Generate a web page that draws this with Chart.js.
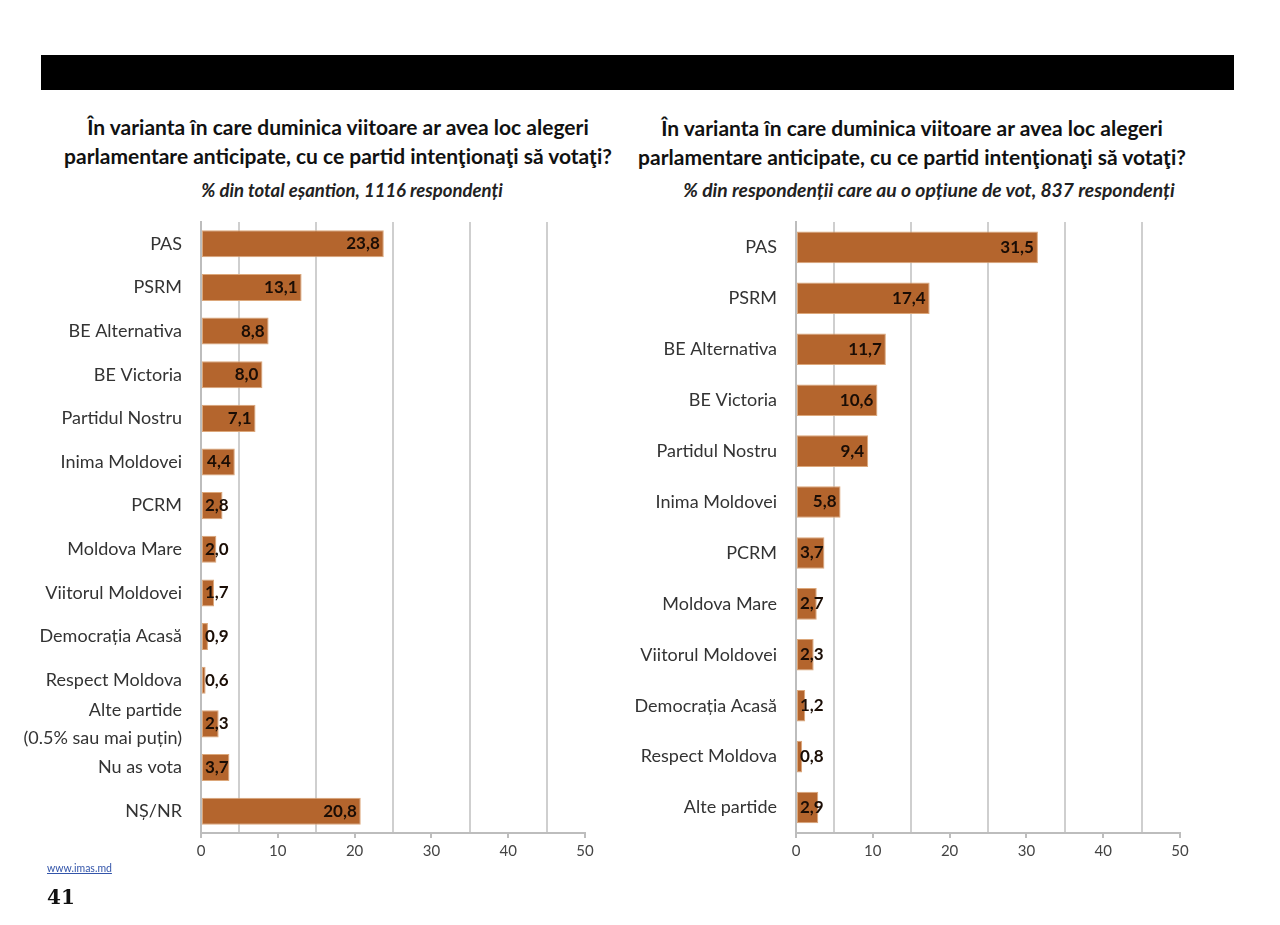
<!DOCTYPE html>
<html lang="ro">
<head>
    <meta charset="UTF-8">
    <title>Intenția de vot</title>
    <style>
        body {
            margin: 0;
            width: 1280px;
            height: 925px;
            background-color: #fff;
            font-family: Lato, "Open Sans", Arial, sans-serif;
            position: relative;
            overflow: hidden;
        }
        .topbar {
            position: absolute;
            left: 41px;
            top: 55px;
            width: 1193px;
            height: 35px;
            background-color: #000;
        }
        .title {
            position: absolute;
            text-align: center;
            font-size: 21px;
            font-weight: bold;
            color: #111;
            line-height: 29px;
        }
        .subtitle {
            position: absolute;
            text-align: center;
            font-size: 18.5px;
            font-weight: bold;
            font-style: italic;
            color: #222;
        }
        .chart-box {
            position: absolute;
        }
        .footer-link {
            position: absolute;
            left: 47px;
            top: 862px;
            font-size: 10.5px;
            color: #3355aa;
            text-decoration: underline;
        }
        .page-num {
            position: absolute;
            left: 47px;
            top: 885px;
            font-family: "DejaVu Serif", "Liberation Serif", serif;
            font-weight: bold;
            font-size: 20px;
            color: #111;
        }
    </style>
</head>
<body>
    <div class="topbar"></div>

    <div class="title" style="left:38px; top:112px; width:600px;">În varianta în care duminica viitoare ar avea loc alegeri<br>parlamentare anticipate, cu ce partid intenţionaţi să votaţi?</div>
    <div class="subtitle" style="left:52px; top:179px; width:600px;">% din total eșantion, 1116 respondenți</div>

    <div class="title" style="left:612px; top:113px; width:600px;">În varianta în care duminica viitoare ar avea loc alegeri<br>parlamentare anticipate, cu ce partid intenţionaţi să votaţi?</div>
    <div class="subtitle" style="left:629px; top:178px; width:600px; font-size:19.3px;">% din respondenții care au o opțiune de vot, 837 respondenți</div>

    <div class="chart-box" style="left:0px; top:189px; width:610px; height:689px;">
        <canvas id="chartTotal"></canvas>
    </div>
    <div class="chart-box" style="left:600px; top:189px; width:610px; height:689px;">
        <canvas id="chartVot"></canvas>
    </div>

    <div class="footer-link">www.imas.md</div>
    <div class="page-num">41</div>

    <script src="https://cdn.jsdelivr.net/npm/chart.js"></script>
    <script>
        // left chart: % din total esantion
        const partideTotal = [
            'PAS', 'PSRM', 'BE Alternativa', 'BE Victoria', 'Partidul Nostru',
            'Inima Moldovei', 'PCRM', 'Moldova Mare', 'Viitorul Moldovei',
            'Democrația Acasă', 'Respect Moldova',
            ['Alte partide', '(0.5% sau mai puțin)'], 'Nu as vota', 'NȘ/NR'
        ];
        const valoriTotal = [23.8, 13.1, 8.8, 8.0, 7.1, 4.4, 2.8, 2.0, 1.7, 0.9, 0.6, 2.3, 3.7, 20.8];

        // right chart: % din cei cu optiune de vot
        const partideVot = [
            'PAS', 'PSRM', 'BE Alternativa', 'BE Victoria', 'Partidul Nostru',
            'Inima Moldovei', 'PCRM', 'Moldova Mare', 'Viitorul Moldovei',
            'Democrația Acasă', 'Respect Moldova', 'Alte partide'
        ];
        const valoriVot = [31.5, 17.4, 11.7, 10.6, 9.4, 5.8, 3.7, 2.7, 2.3, 1.2, 0.8, 2.9];

        const xMax = 50;
        const barColor = '#b4652d';

        // value labels: inside end for long bars, just after the base for short ones
        const valueLabels = {
            id: 'valueLabels',
            afterDatasetsDraw(chart) {
                const ctx = chart.ctx;
                const meta = chart.getDatasetMeta(0);
                const data = chart.data.datasets[0].data;
                ctx.save();
                ctx.font = 'bold 17px Lato, "Open Sans", Arial, sans-serif';
                ctx.fillStyle = '#1a0d05';
                ctx.textBaseline = 'middle';
                meta.data.forEach((bar, i) => {
                    const txt = data[i].toFixed(1).replace('.', ',');
                    const w = ctx.measureText(txt).width;
                    const len = bar.x - bar.base;
                    if (len > w + 8) {
                        ctx.textAlign = 'right';
                        ctx.fillText(txt, bar.x - 4, bar.y);
                    } else {
                        ctx.textAlign = 'left';
                        ctx.fillText(txt, bar.base + 3, bar.y);
                    }
                });
                ctx.restore();
            }
        };

        function makeChart(id, labels, values, axisWidth, padRight) {
            return new Chart(document.getElementById(id), {
                type: 'bar',
                data: {
                    labels: labels,
                    datasets: [{
                        data: values,
                        backgroundColor: barColor,
                        borderColor: '#dca77a',
                        borderWidth: 1,
                        borderSkipped: false,
                        barPercentage: 0.62,
                        categoryPercentage: 1
                    }]
                },
                options: {
                    indexAxis: 'y',
                    responsive: true,
                    maintainAspectRatio: false,
                    animation: false,
                    layout: { padding: { top: 12, bottom: 14, right: padRight, left: 0 } },
                    plugins: {
                        legend: { display: false },
                        tooltip: { enabled: false }
                    },
                    scales: {
                        x: {
                            min: 0,
                            max: xMax,
                            ticks: {
                                stepSize: 5,
                                padding: 4,
                                color: '#444',
                                font: { size: 15, family: 'Lato, "Open Sans", Arial, sans-serif' },
                                callback: v => (v % 10 === 0 ? v : '')
                            },
                            grid: {
                                drawTicks: true,
                                tickLength: 5,
                                color: c => (c.tick && c.tick.value % 10 === 5 ? '#cfcfcf' : 'rgba(0,0,0,0)'),
                                tickColor: c => (c.tick && c.tick.value % 10 === 0 ? '#bdbdbd' : 'rgba(0,0,0,0)'),
                                lineWidth: 2
                            },
                            border: { color: '#bdbdbd', width: 2 }
                        },
                        y: {
                            afterFit: scale => { scale.width = axisWidth; },
                            ticks: {
                                autoSkip: false,
                                padding: 19,
                                color: '#333',
                                font: { size: 18, family: 'Lato, "Open Sans", Arial, sans-serif', lineHeight: 1.55 }
                            },
                            grid: { display: false, drawTicks: false },
                            border: { color: '#bdbdbd', width: 2 }
                        }
                    }
                },
                plugins: [valueLabels]
            });
        }

        makeChart('chartTotal', partideTotal, valoriTotal, 201, 25);
        makeChart('chartVot', partideVot, valoriVot, 196, 30);
    </script>
</body>
</html>
